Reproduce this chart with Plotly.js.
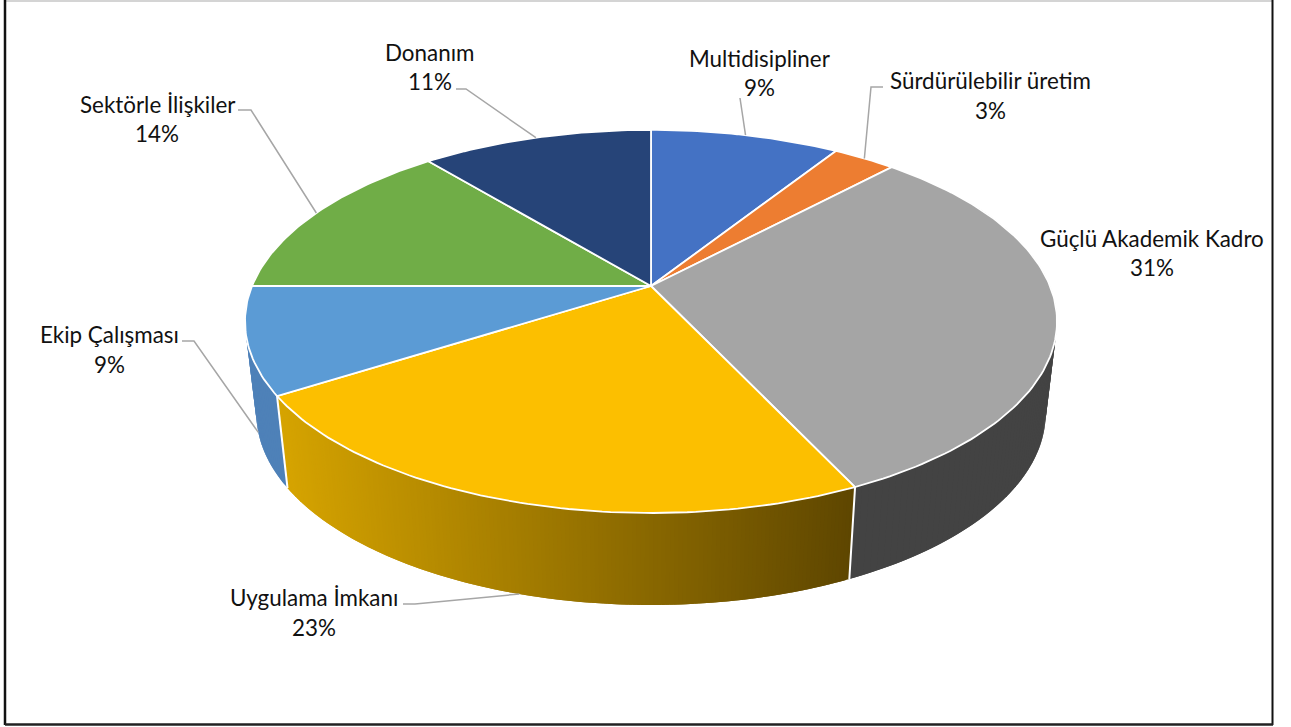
<!DOCTYPE html>
<html>
<head>
<meta charset="utf-8">
<script src="https://cdn.plot.ly/plotly-3.0.1.min.js"></script>
<style>html,body{margin:0;padding:0;background:#fff}#chart{width:1291px;height:727px}</style>
</head>
<body>
<div id="chart"></div>
<script>
// Slice data
const categories = ["Multidisipliner", "Sürdürülebilir üretim", "Güçlü Akademik Kadro", "Uygulama İmkanı", "Ekip Çalışması", "Sektörle İlişkiler", "Donanım"];
const shares = [9, 3, 31, 23, 9, 14, 11];

// Slice colours: top face, then wall colour at the left and right of the slice
const topColors = ["#4472c4", "#ed7d31", "#a5a5a5", "#fcbf00", "#5b9bd5", "#70ad47", "#264478"];
const wallLeft = [null, null, [67, 67, 67], [214, 164, 0], [78, 129, 184], null, null];
const wallRight = [null, null, [67, 67, 67], [94, 70, 0], [78, 129, 184], null, null];

// Label placement in plot units: centre x, name line y, percent line y, leader elbow, leader start
const labelX = [759, 990, 1152, 314, 109, 157, 430];
const nameY = [58, 80, 238, 597, 334, 104, 52];
const percentY = [87, 110, 267, 627, 364, 133, 81];
const leaderStart = [[740, 98], [883, 87], null, [403, 604], [182, 341], [238, 110], [456, 89]];
const leaderElbow = [null, [871, 87], null, [415, 604], [194, 341], [251, 110], [466, 89]];
const leaderOnWall = [false, false, false, true, true, false, false];

// Perspective disc: apex position, radii and tilt, then the wall drop
const apex = {x: 651, y: 286};
const halfWidth = 399, halfHeight = 185, tilt = 0.185;
const wallDrop = 92, wallShrink = 0.972;

const rad = d => d * Math.PI / 180;
function rim(deg, lower) {
  const u = Math.sin(rad(deg)), v = Math.cos(rad(deg));
  const d = 1 + tilt * v;
  const X = halfWidth * u / d, Y = halfHeight * v / d;
  return lower
    ? {x: apex.x + X * wallShrink, y: apex.y - Y + wallDrop}
    : {x: apex.x + X, y: apex.y - Y};
}

const total = shares.reduce((a, b) => a + b, 0);
const starts = [], ends = [];
shares.reduce((acc, s, i) => {
  starts[i] = acc / total * 360;
  ends[i] = (acc + s) / total * 360;
  return acc + s;
}, 0);

const traces = [];
const base = {mode: "lines", hoverinfo: "skip", showlegend: false};

// One narrow quad of wall between two angles
function wallQuad(a, b, color) {
  const loop = [rim(a, false), rim(b, false), rim(b, true), rim(a, true), rim(a, false)];
  traces.push({...base, x: loop.map(q => q.x), y: loop.map(q => q.y), fill: "toself", fillcolor: color,
    line: {width: 0, color: color}});
}

// Side walls: overlapping narrow quads, painted in order so no seams show
const shadeX0 = rim(ends[2], true).x, shadeX1 = rim(ends[3], true).x;
categories.forEach((name, i) => {
  if (!wallLeft[i]) return;
  const from = Math.max(starts[i], 60), to = Math.min(ends[i], 300);
  const flat = wallLeft[i].every((l, j) => l === wallRight[i][j]);
  const steps = Math.ceil((to - from) * (flat ? 1 : 2));
  const width = (to - from) / steps;
  for (let k = 0; k < steps; k++) {
    const a = from + width * k, b = Math.min(to, a + width * 2);
    const midX = rim(a + width / 2, true).x;
    const t = Math.min(1, Math.max(0, (midX - shadeX1) / (shadeX0 - shadeX1)));
    const c = wallLeft[i].map((l, j) => Math.round(l + (wallRight[i][j] - l) * t));
    wallQuad(a, b, `rgb(${c.join(",")})`);
  }
});

// White seams between the visible walls
[ends[2], ends[3]].forEach(deg => {
  const a = rim(deg, false), b = rim(deg, true);
  traces.push({...base, x: [a.x, b.x], y: [a.y, b.y], line: {color: "#fff", width: 2}});
});

// Top faces
categories.forEach((name, i) => {
  const xs = [apex.x], ys = [apex.y];
  const n = Math.max(8, Math.ceil(ends[i] - starts[i]));
  for (let k = 0; k <= n; k++) {
    const p = rim(starts[i] + (ends[i] - starts[i]) * k / n, false);
    xs.push(p.x); ys.push(p.y);
  }
  xs.push(apex.x); ys.push(apex.y);
  traces.push({...base, x: xs, y: ys, fill: "toself", fillcolor: topColors[i], line: {color: "#fff", width: 1.8}});
});

// Leader lines run from the label to the middle of the slice's edge
categories.forEach((name, i) => {
  if (!leaderStart[i]) return;
  const end = rim((starts[i] + ends[i]) / 2, leaderOnWall[i]);
  const pts = [leaderStart[i]];
  if (leaderElbow[i]) pts.push(leaderElbow[i]);
  pts.push([end.x, end.y]);
  traces.push({...base, x: pts.map(p => p[0]), y: pts.map(p => p[1]), line: {color: "#a6a6a6", width: 1.5}});
});

const labelFont = {family: "Lato, 'Noto Sans', sans-serif", size: 22.4, color: "#111"};
const annotations = [];
categories.forEach((name, i) => {
  annotations.push({x: labelX[i], y: nameY[i], xref: "x", yref: "y", text: name, showarrow: false,
    xanchor: "center", yanchor: "middle", font: labelFont});
  annotations.push({x: labelX[i], y: percentY[i], xref: "x", yref: "y", text: shares[i] + "%", showarrow: false,
    xanchor: "center", yanchor: "middle", font: labelFont});
});

// Outer frame of the chart area
const frameLine = (x0, y0, x1, y1, color, width) => ({type: "line", xref: "x", yref: "y", x0, y0, x1, y1, line: {color, width}});
const shapes = [
  frameLine(5, 1, 1273, 1, "#d4d4d4", 2),
  frameLine(5, 0, 5, 725, "#111", 2.5),
  frameLine(1272.5, 0, 1272.5, 725, "#111", 2),
  frameLine(5, 724.5, 1273, 724.5, "#222", 2.5)
];

Plotly.newPlot("chart", traces, {
  width: 1291, height: 727,
  margin: {l: 0, r: 0, t: 0, b: 0},
  paper_bgcolor: "#fff", plot_bgcolor: "#fff",
  xaxis: {range: [0, 1291], visible: false, fixedrange: true},
  yaxis: {range: [727, 0], visible: false, fixedrange: true},
  annotations, shapes, showlegend: false
}, {displayModeBar: false, staticPlot: true});
</script>
</body>
</html>
